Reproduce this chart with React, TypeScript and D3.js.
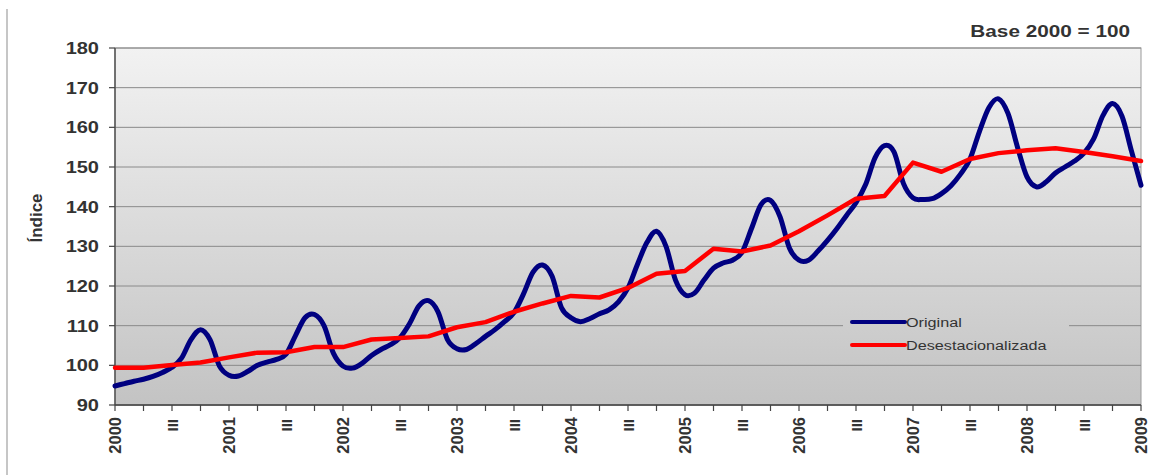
import React from "react";
import * as d3 from "d3";

// Monthly original index, Jan 2000 .. Jan 2009
const original: number[] = [
  // 2000
  94.8, 95.4, 96.0, 96.5, 97.2, 98.2, 99.5, 101.8, 106.5, 109.0, 106.5, 99.8,
  // 2001
  97.5, 97.3, 98.5, 100.0, 100.8, 101.5, 102.8, 107.5, 112.0, 112.8, 110.0, 103.0,
  // 2002
  99.8, 99.3, 100.5, 102.5, 104.0, 105.2, 107.0, 110.5, 115.0, 116.3, 113.5, 106.5,
  // 2003
  104.2, 104.0, 105.5, 107.3, 109.0, 111.0, 113.3, 118.0, 123.5, 125.3, 122.5, 114.5,
  // 2004
  112.0, 111.0, 111.8, 113.0, 114.0, 116.0, 119.5, 125.5, 131.0, 133.8, 130.0, 121.5,
  // 2005
  117.8, 118.2, 121.5, 124.5, 125.8, 126.5, 128.5, 134.5, 140.5, 141.6, 137.5, 129.5,
  // 2006
  126.5, 126.5, 128.8, 131.5, 134.5, 137.8, 141.0, 145.5, 152.3, 155.4, 153.8, 145.8,
  // 2007
  142.2, 141.8, 142.0, 143.3, 145.3, 148.2, 152.0, 159.0, 165.0, 167.2, 163.5, 155.0,
  // 2008
  147.5, 145.0, 146.2, 148.5, 150.0, 151.5, 153.5, 157.0, 163.0, 166.0, 162.8, 154.0,
  // 2009
  145.4,
];

// Quarterly seasonally adjusted index, 2000-I .. 2009-I
const desestacionalizada: number[] = [
  99.4, 99.4, 100.1, 100.7,
  102.0, 103.2, 103.3, 104.6,
  104.6, 106.5, 106.9, 107.3,
  109.6, 110.9, 113.5, 115.6,
  117.5, 117.1, 119.5, 123.1,
  123.8, 129.4, 128.7, 130.2,
  133.8, 137.8, 142.0, 142.7,
  151.1, 148.8, 152.0, 153.5,
  154.2, 154.7, 153.8, 152.7,
  151.5,
];

const years: string[] = ["2000", "2001", "2002", "2003", "2004", "2005", "2006", "2007", "2008", "2009"];
const quarterLabel = "III";
const yTicks: number[] = [90, 100, 110, 120, 130, 140, 150, 160, 170, 180];
const seriesNames: string[] = ["Original", "Desestacionalizada"];

const W = 1170;
const H = 475;
const L = 115;
const R = 1141;
const T = 48;
const B = 405;

export default function App() {
  const x = d3.scaleLinear().domain([0, 36]).range([L, R]); // quarters
  const y = d3.scaleLinear().domain([90, 180]).range([B, T]);

  const lineMonthly = d3
    .line<number>()
    .x((_, i) => x(i / 3))
    .y((d) => y(d))
    .curve(d3.curveCardinal.tension(0));
  const lineQuarterly = d3
    .line<number>()
    .x((_, i) => x(i))
    .y((d) => y(d));

  const font = "'Liberation Sans', Arial, Helvetica, sans-serif";
  const quarterTicks = d3.range(0, 37);

  return (
    <svg
      width={W}
      height={H}
      style={{ position: "absolute", left: 0, top: 0, background: "#ffffff" }}
      fontFamily={font}
    >
      <defs>
        <linearGradient id="bg" gradientUnits="userSpaceOnUse" x1="0" y1={T} x2="0" y2={B}>
          <stop offset="0" stopColor="#f2f2f2" />
          <stop offset="1" stopColor="#c3c3c3" />
        </linearGradient>
      </defs>

      {/* outer frame left edge */}
      <line x1={7} y1={9} x2={7} y2={H} stroke="#c6c6c6" strokeWidth={2} />

      {/* plot area */}
      <rect x={L} y={T} width={R - L} height={B - T} fill="url(#bg)" stroke="#9a9a9a" strokeWidth={1} />

      {/* gridlines */}
      {yTicks.map((t) => (
        <line key={"g" + t} x1={L} x2={R} y1={y(t)} y2={y(t)} stroke="#8a8a8a" strokeWidth={1} />
      ))}

      {/* y axis */}
      <line x1={L} x2={L} y1={T} y2={B} stroke="#555" strokeWidth={1.5} />
      {yTicks.map((t) => (
        <g key={"yt" + t}>
          <line x1={L - 6} x2={L} y1={y(t)} y2={y(t)} stroke="#444" strokeWidth={1.2} />
          <text
            transform={`translate(99, ${y(t) + 6}) scale(1.25,1)`}
            textAnchor="end"
            fontSize={16}
            fontWeight="bold"
            fill="#333"
          >
            {t}
          </text>
        </g>
      ))}

      {/* x axis */}
      <line x1={L} x2={R} y1={B} y2={B} stroke="#444" strokeWidth={1.5} />
      {quarterTicks.map((q) => (
        <line key={"xt" + q} x1={x(q)} x2={x(q)} y1={B} y2={B + 6} stroke="#444" strokeWidth={1.2} />
      ))}
      {years.map((yr, i) => (
        <text
          key={"yl" + yr}
          transform={`translate(${x(i * 4) + 6}, 417) rotate(-90)`}
          textAnchor="end"
          fontSize={16.5}
          fontWeight="bold"
          fill="#333"
        >
          {yr}
        </text>
      ))}
      {years.slice(0, -1).map((yr, i) => (
        <text
          key={"ql" + yr}
          transform={`translate(${x(i * 4 + 2) + 6}, 419) rotate(-90)`}
          textAnchor="end"
          fontSize={15}
          fontWeight="bold"
          fill="#333"
        >
          {quarterLabel}
        </text>
      ))}

      {/* y title */}
      <text
        transform="translate(42, 218) rotate(-90)"
        textAnchor="middle"
        fontSize={17}
        fontWeight="bold"
        fill="#333"
      >
        Índice
      </text>

      {/* base note */}
      <text
        transform="translate(1130, 37) scale(1.22,1)"
        textAnchor="end"
        fontSize={17}
        fontWeight="bold"
        fill="#333"
      >
        Base 2000 = 100
      </text>

      {/* series */}
      <path d={lineMonthly(original) || ""} fill="none" stroke="#000080" strokeWidth={5} strokeLinejoin="round" strokeLinecap="round" />
      <path d={lineQuarterly(desestacionalizada) || ""} fill="none" stroke="#ff0000" strokeWidth={4.5} strokeLinejoin="round" strokeLinecap="round" />

      {/* legend */}
      <rect x={843} y={312} width={226} height={47} fill="url(#bg)" />
      <line x1={852} x2={905} y1={322} y2={322} stroke="#000080" strokeWidth={4} strokeLinecap="round" />
      <text transform="translate(906, 327) scale(1.2,1)" fontSize={13.5} fill="#333">
        {seriesNames[0]}
      </text>
      <line x1={852} x2={905} y1={345} y2={345} stroke="#ff0000" strokeWidth={4} strokeLinecap="round" />
      <text transform="translate(906, 350) scale(1.2,1)" fontSize={13.5} fill="#333">
        {seriesNames[1]}
      </text>
    </svg>
  );
}
